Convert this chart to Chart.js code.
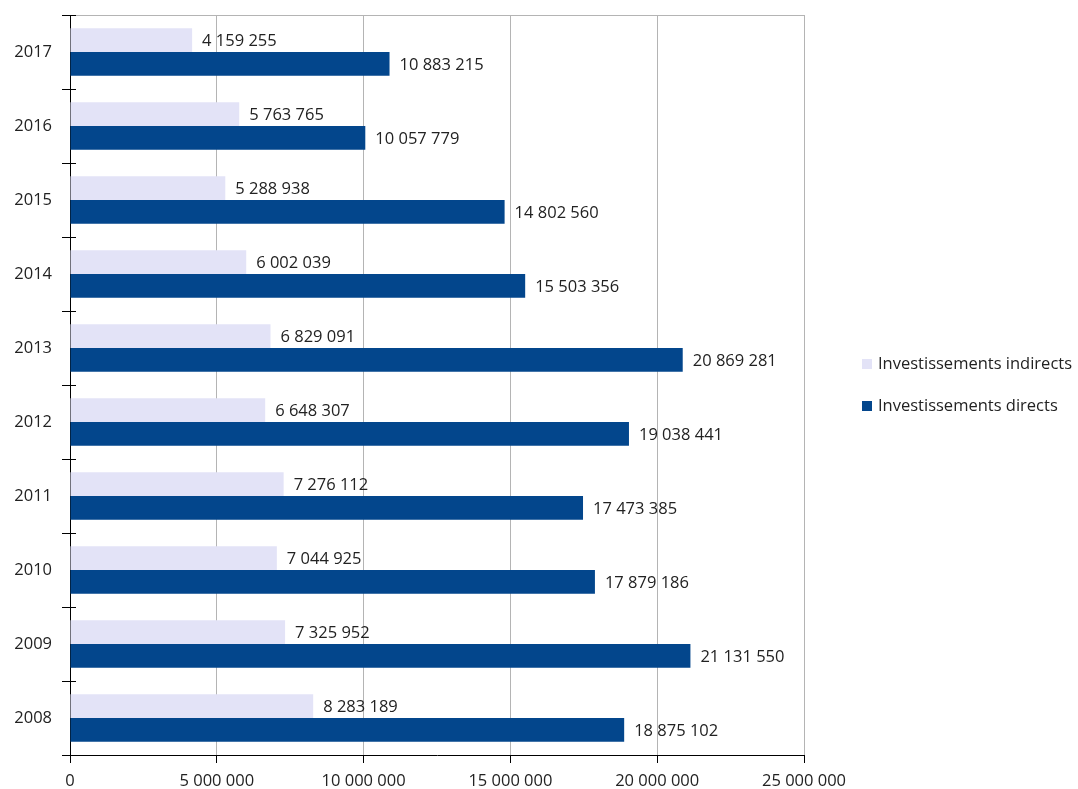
<!DOCTYPE html>
<html>
<head>
<meta charset="utf-8">
<script src="https://cdn.jsdelivr.net/npm/chart.js@4"></script>
<style>
  html,body{margin:0;padding:0;background:#fff;}
  #wrap{position:relative;width:1078px;height:789px;}
  canvas{position:absolute;left:0;top:0;}
  .leg{position:absolute;font-family:"Open Sans",sans-serif;font-size:16.5px;color:#222;white-space:nowrap;line-height:20px;}
  .leg span{display:inline-block;width:10px;height:10px;margin-right:6px;vertical-align:0px;}
</style>
</head>
<body>
<div id="wrap">
<canvas id="c" width="1078" height="789"></canvas>
<div class="leg" style="left:862px;top:353px;"><span style="background:#E3E3F7"></span>Investissements indirects</div>
<div class="leg" style="left:862px;top:395px;"><span style="background:#03468C"></span>Investissements directs</div>
</div>
<script>
const years = ['2017','2016','2015','2014','2013','2012','2011','2010','2009','2008'];
const indirects = [4159255, 5763765, 5288938, 6002039, 6829091, 6648307, 7276112, 7044925, 7325952, 8283189];
const directs = [10883215, 10057779, 14802560, 15503356, 20869281, 19038441, 17473385, 17879186, 21131550, 18875102];
const seriesNames = ['Investissements indirects', 'Investissements directs'];
const xTicks = [0, 5000000, 10000000, 15000000, 20000000, 25000000];

const fmt = v => String(Math.round(v)).replace(/\B(?=(\d{3})+(?!\d))/g, ' ');
const FONT = '"Open Sans", sans-serif';
const FS = 16.5;

const labelPlugin = {
  id: 'labels',
  afterDatasetsDraw(chart) {
    const ctx = chart.ctx;
    ctx.save();
    ctx.font = FS + 'px ' + FONT;
    ctx.fillStyle = '#222';
    ctx.textBaseline = 'middle';
    ctx.textAlign = 'left';
    chart.data.datasets.forEach((ds, di) => {
      chart.getDatasetMeta(di).data.forEach((bar, i) => {
        ctx.fillText(fmt(ds.data[i]), bar.x + 10, bar.y + 1);
      });
    });
    ctx.restore();
  },
  afterDraw(chart) {
    const ctx = chart.ctx, a = chart.chartArea;
    ctx.save();
    ctx.strokeStyle = '#b4b4b4';
    ctx.lineWidth = 1;
    ctx.beginPath();
    ctx.moveTo(a.left, Math.round(a.top) + 0.5);
    ctx.lineTo(a.right, Math.round(a.top) + 0.5);
    ctx.stroke();
    ctx.strokeStyle = '#000';
    const n = chart.data.labels.length;
    const h = (a.bottom - a.top) / n;
    ctx.beginPath();
    for (let i = 0; i <= n; i++) {
      const y = Math.round(a.top + i * h) + 0.5;
      ctx.moveTo(a.left, y);
      ctx.lineTo(a.left + 6, y);
    }
    ctx.stroke();
    ctx.restore();
  }
};

new Chart(document.getElementById('c'), {
  type: 'bar',
  data: {
    labels: years,
    datasets: [
      { label: seriesNames[0], data: indirects, backgroundColor: '#E3E3F7', categoryPercentage: 0.64, barPercentage: 1.0 },
      { label: seriesNames[1], data: directs, backgroundColor: '#03468C', categoryPercentage: 0.64, barPercentage: 1.0 }
    ]
  },
  options: {
    indexAxis: 'y',
    responsive: false,
    animation: false,
    layout: { padding: { left: 0, top: 15, right: 274, bottom: 0 } },
    plugins: { legend: { display: false }, tooltip: { enabled: false } },
    scales: {
      x: {
        min: 0, max: 25000000,
        afterBuildTicks: s => { s.ticks = xTicks.map(v => ({ value: v })); },
        afterFit: s => { s.height = 34; s.paddingLeft = 0; s.paddingRight = 0; },
        grid: { color: '#b4b4b4', tickColor: '#000', tickLength: 8, lineWidth: 1 },
        border: { color: '#000', width: 1 },
        ticks: { color: '#222', font: { family: FONT, size: FS }, padding: 8, maxRotation: 0, callback: v => fmt(v) }
      },
      y: {
        afterFit: s => { s.width = 70; s.paddingTop = 0; s.paddingBottom = 0; },
        grid: { display: true, drawOnChartArea: false, offset: true, tickColor: '#000', tickLength: 8 },
        border: { color: '#000', width: 1 },
        ticks: { color: '#222', font: { family: FONT, size: FS }, padding: 10 }
      }
    }
  },
  plugins: [labelPlugin]
});
</script>
</body>
</html>
